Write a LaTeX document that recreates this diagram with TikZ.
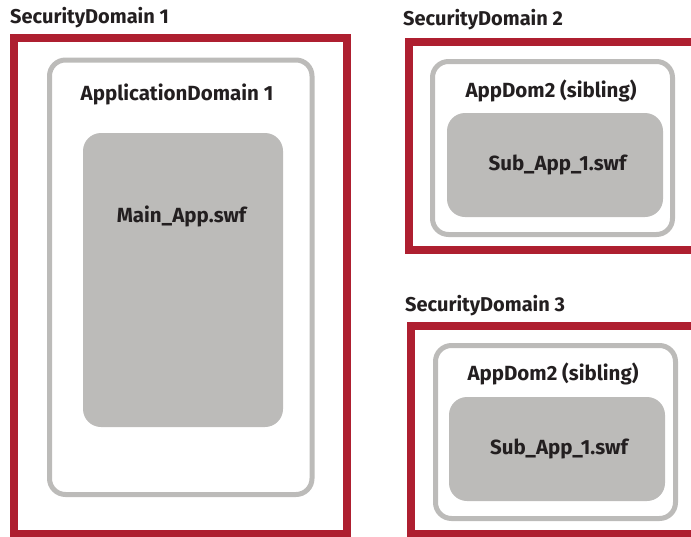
\documentclass[tikz,border=0pt]{standalone}
\usepackage{fontspec}
\setmainfont{Fira Sans}

\definecolor{sdred}{HTML}{AE1F30}
\definecolor{domgray}{HTML}{BCBBB9}
\definecolor{ink}{HTML}{231F20}

\begin{document}
\begin{tikzpicture}[
    x=1pt, y=-1pt,
    secdom/.style={draw=sdred, line width=8pt}, % security domain frame
    appdom/.style={draw=domgray, line width=5pt, rounded corners=16pt}, % application domain
    swf/.style={fill=domgray, rounded corners=18pt}, % loaded swf
    title/.style={font=\bfseries\fontsize{20}{22}\selectfont, text=ink, inner sep=0pt, anchor=base west},
    label/.style={title, font=\bfseries\fontsize{20.5}{23}\selectfont, anchor=base}
]

    % === Canvas ===
    \useasboundingbox (0,0) rectangle (691,536);
    \clip (0,0) rectangle (691,536);

    % === Security Domain 1 ===
    \draw[secdom] (14,38) rectangle (347,534);
    \draw[appdom] (49.5,60) rectangle (312,494.5);
    \fill[swf] (83,133) rectangle (283,427);

    \node[title] (sd1) at (10,23) {SecurityDomain 1};
    \node[label] (ad1) at (177,100) {ApplicationDomain 1};
    \node[label] (main) at (181.5,222) {Main\_App.swf};

    % === Security Domain 2 ===
    \draw[secdom] (409,41.5) rectangle (700,250);
    \draw[appdom] (432.5,61.5) rectangle (672.5,234.5);
    \fill[swf] (447,113) rectangle (663,217);

    \node[title] (sd2) at (403,25) {SecurityDomain 2};
    \node[label] (ad2) at (551,97) {AppDom2 (sibling)};
    \node[label] (sub2) at (557.5,170) {Sub\_App\_1.swf};

    % === Security Domain 3 ===
    \draw[secdom] (411,326) rectangle (700,534);
    \draw[appdom] (435.5,345.5) rectangle (675.5,518.5);
    \fill[swf] (449,397) rectangle (665,501);

    \node[title] (sd3) at (405,311) {SecurityDomain 3};
    \node[label] (ad3) at (553,380) {AppDom2 (sibling)};
    \node[label] (sub3) at (559,454) {Sub\_App\_1.swf};

\end{tikzpicture}
\end{document}
